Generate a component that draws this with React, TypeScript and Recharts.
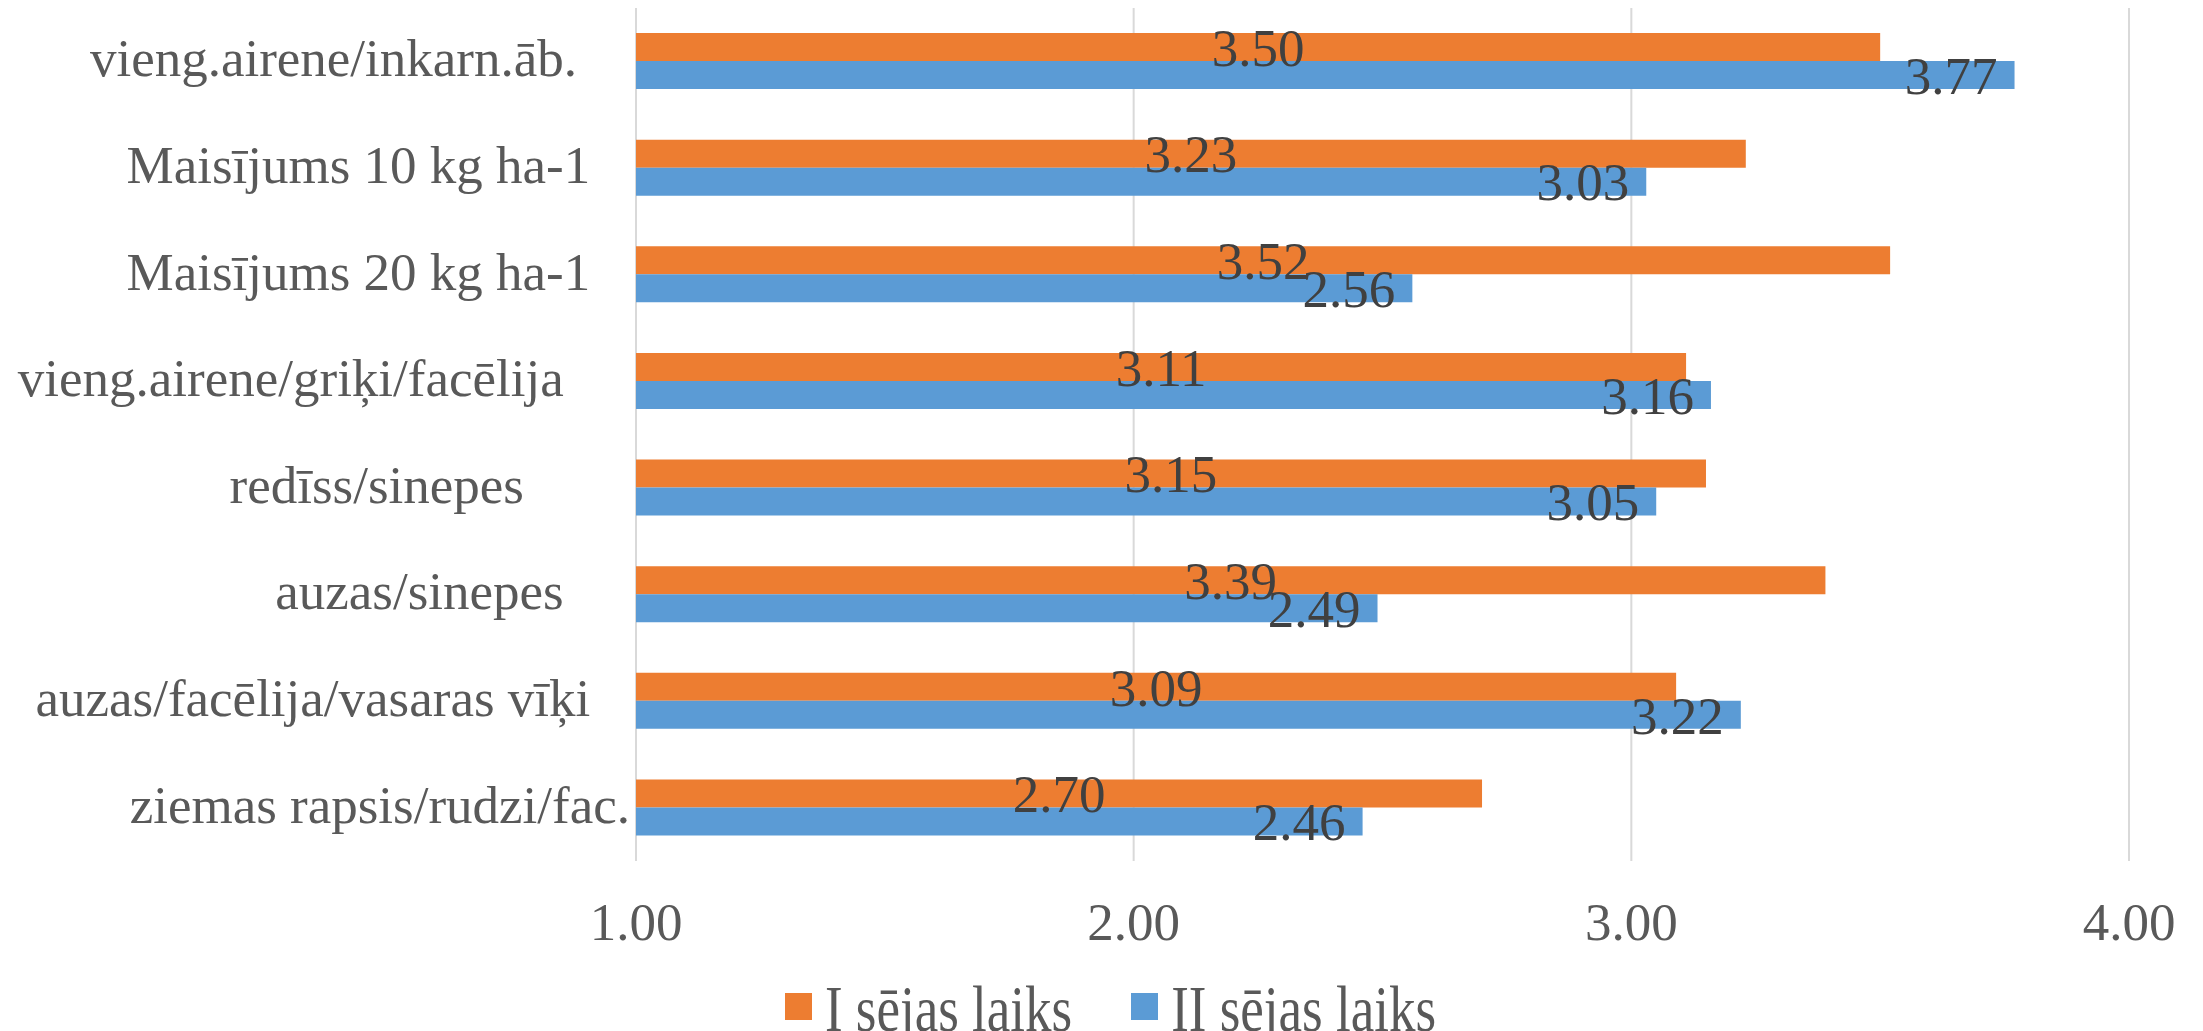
import { BarChart, Bar, XAxis, YAxis, CartesianGrid, Legend, LabelList } from "recharts";

// kategorijas (ar beigu atstarpēm kā oriģinālajā tabulā)
const categories = [
  "vieng.airene/inkarn.āb.    ",
  "Maisījums 10 kg ha-1   ",
  "Maisījums 20 kg ha-1   ",
  "vieng.airene/griķi/facēlija     ",
  "redīss/sinepes        ",
  "auzas/sinepes     ",
  "auzas/facēlija/vasaras vīķi   ",
  "ziemas rapsis/rudzi/fac.",
];

const seriesNames = ["I sējas laiks", "II sējas laiks"];
const firstSowing = [3.5, 3.23, 3.52, 3.11, 3.15, 3.39, 3.09, 2.7];
const secondSowing = [3.77, 3.03, 2.56, 3.16, 3.05, 2.49, 3.22, 2.46];
const xTicks = [1, 2, 3, 4];

const ORANGE = "#ED7D31";
const BLUE = "#5B9BD5";
const FONT = "'Liberation Serif', 'Times New Roman', serif";

const data = categories.map((name, i) => ({
  name,
  first: firstSowing[i],
  second: secondSowing[i],
}));

const CategoryTick = ({ x, y, payload }: any) => (
  <text
    x={x}
    y={y}
    dy={15}
    textAnchor="end"
    fill="#595959"
    fontSize={53}
    fontFamily={FONT}
    style={{ whiteSpace: "pre" }}
  >
    {payload.value}
  </text>
);

const LegendContent = () => {
  const items = [
    { name: seriesNames[0], color: ORANGE },
    { name: seriesNames[1], color: BLUE },
  ];
  return (
    <div
      style={{
        height: 50,
        display: "flex",
        alignItems: "center",
        justifyContent: "center",
        paddingLeft: 18,
        fontFamily: FONT,
        fontSize: 53,
        color: "#595959",
      }}
    >
      {items.map((item, i) => (
        <div key={item.name} style={{ display: "flex", alignItems: "center", marginRight: i === 0 ? 59 : 0 }}>
          <span style={{ width: 27, height: 27, background: item.color, marginRight: 13, display: "inline-block" }} />
          <span
            style={{
              display: "inline-block",
              lineHeight: "50px",
              whiteSpace: "nowrap",
              transform: "scaleY(1.25)",
              transformOrigin: "0 16px",
            }}
          >
            {item.name}
          </span>
        </div>
      ))}
    </div>
  );
};

export default function App() {
  return (
    <div style={{ position: "absolute", left: 0, top: 0, width: 2203, height: 1031, background: "#fff", overflow: "hidden" }}>
      <BarChart
        width={2203}
        height={1031}
        data={data}
        layout="vertical"
        barGap={0}
        barSize={28}
        margin={{ top: 8, right: 74, bottom: 0, left: 0 }}
      >
        <CartesianGrid horizontal={false} stroke="#d9d9d9" strokeWidth={2} />
        <XAxis
          type="number"
          domain={[1, 4]}
          ticks={xTicks}
          allowDataOverflow
          axisLine={false}
          tickLine={false}
          tickSize={0}
          tickMargin={41}
          height={120}
          tickFormatter={(v: number) => v.toFixed(2)}
          tick={{ fill: "#595959", fontSize: 53, fontFamily: FONT }}
        />
        <YAxis
          type="category"
          dataKey="name"
          width={636}
          axisLine={false}
          tickLine={false}
          tickSize={0}
          tickMargin={6}
          interval={0}
          tick={<CategoryTick />}
        />
        <Legend
          verticalAlign="bottom"
          height={50}
          content={<LegendContent />}
          wrapperStyle={{ left: 0, width: 2203 }}
        />
        <Bar dataKey="first" name={seriesNames[0]} fill={ORANGE} isAnimationActive={false}>
          <LabelList
            dataKey="first"
            position="center"
            fill="#404040"
            fontSize={53}
            fontFamily={FONT}
            formatter={(v: any) => Number(v).toFixed(2)}
          />
        </Bar>
        <Bar dataKey="second" name={seriesNames[1]} fill={BLUE} isAnimationActive={false}>
          <LabelList
            dataKey="second"
            position="insideRight"
            offset={17}
            fill="#404040"
            fontSize={53}
            fontFamily={FONT}
            formatter={(v: any) => Number(v).toFixed(2)}
          />
        </Bar>
      </BarChart>
    </div>
  );
}
